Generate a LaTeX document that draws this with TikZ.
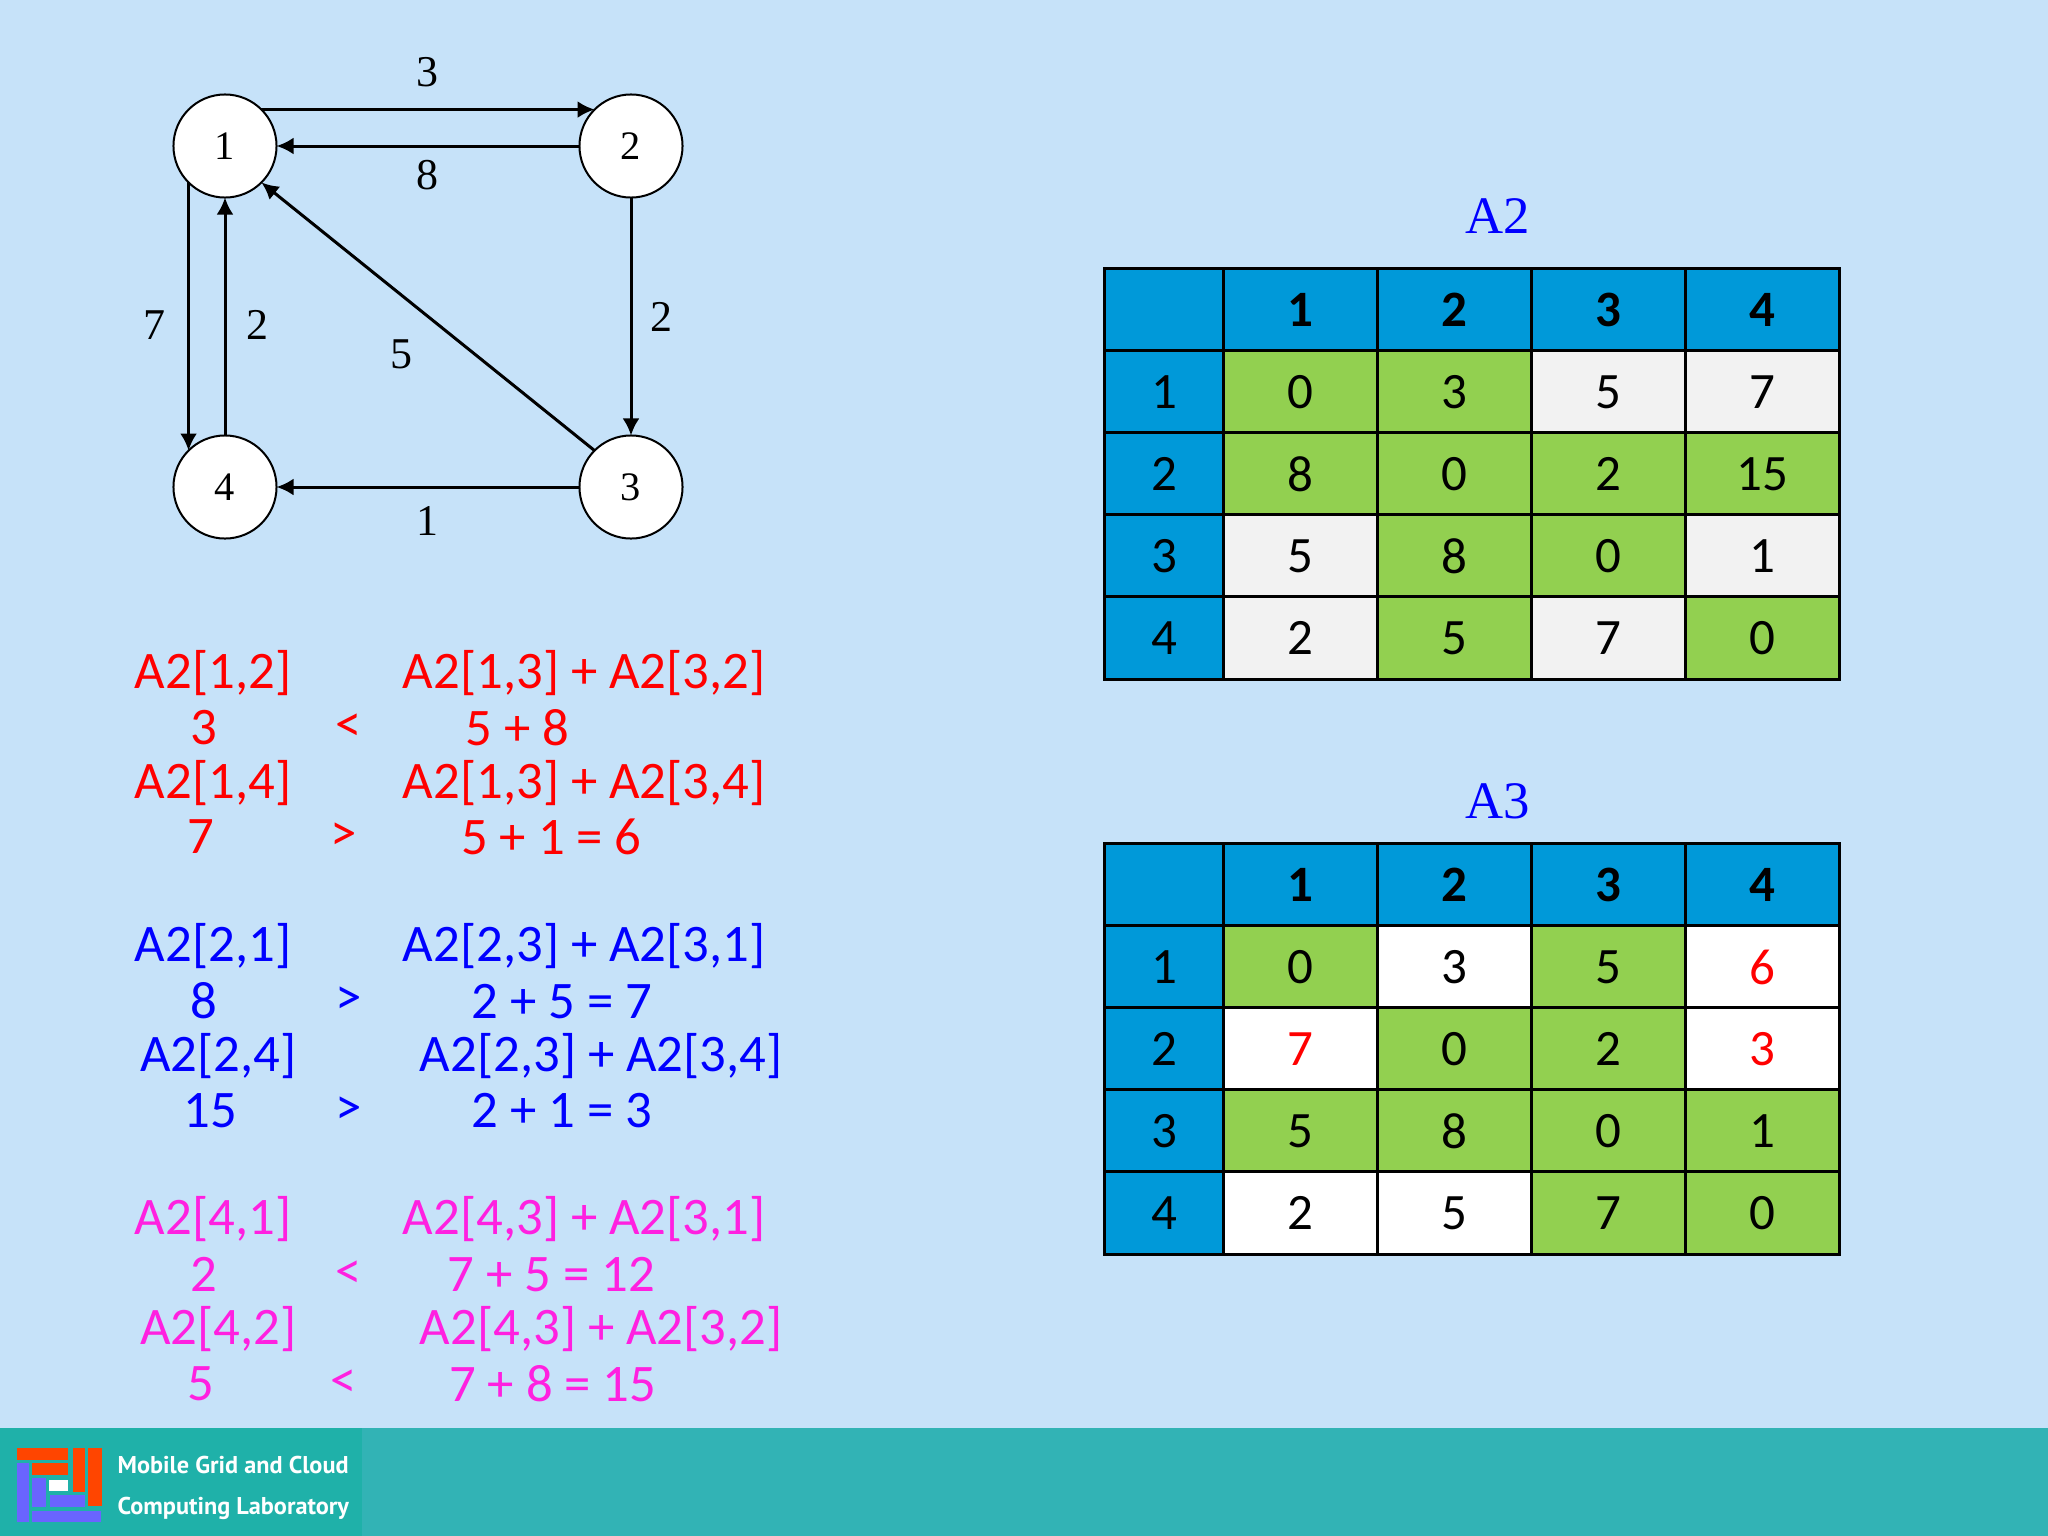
\documentclass[tikz,border=0pt]{standalone}
\usepackage{fontspec}
\usepackage{xcolor}
\usetikzlibrary{arrows.meta}
\setmainfont{Liberation Serif}
\newfontfamily\tabfont{Carlito}
\newfontfamily\handfont{Carlito}
\newfontfamily\logofont{PT Sans}
\definecolor{bgblue}{HTML}{C6E2F9}
\definecolor{bandteal}{HTML}{32B3B5}
\definecolor{logoteal}{HTML}{1FB1A9}
\definecolor{hdblue}{HTML}{0099D9}
\definecolor{cellgreen}{HTML}{92D050}
\definecolor{cellgrey}{HTML}{F2F2F2}
\definecolor{logored}{HTML}{FF4500}
\definecolor{logoviolet}{HTML}{6A64FF}
\definecolor{handpink}{HTML}{FF20E0}

\begin{document}
\begin{tikzpicture}[x=.01cm, y=-.01cm,
  vertex/.style={circle, draw=black, fill=white, line width=.02cm, minimum size=1.03cm, inner sep=0, outer sep=0, font=\fontsize{11.5}{13}\selectfont},
  edge/.style={-{Latex[length=.17cm,width=.17cm]}, black, line width=.03cm},
  weight/.style={inner sep=0, font=\fontsize{12.5}{14}\selectfont},
  title/.style={inner sep=0, text=blue, font=\fontsize{15}{17}\selectfont},
  cell/.style={draw=black, line width=.03cm, minimum width=1.5375cm, minimum height=.82cm, inner sep=0, font=\tabfont\fontsize{14.5}{16}\selectfont},
  side/.style={cell, fill=hdblue, minimum width=1.19cm},
  hb/.style={cell, fill=hdblue, font=\tabfont\bfseries\fontsize{14.5}{16}\selectfont},
  gr/.style={cell, fill=cellgreen},
  gy/.style={cell, fill=cellgrey},
  wh/.style={cell, fill=white},
  rd/.style={cell, fill=white, text=red},
  hand/.style={inner sep=0, font=\handfont\fontsize{15}{17}\selectfont},
  logotext/.style={inner sep=0, anchor=west, text=white, font=\logofont\bfseries\fontsize{6.9}{8}\selectfont}]
\useasboundingbox (0,0) rectangle (2048,1536);
\fill[bgblue] (0,0) rectangle (2048,1536);
\fill[bandteal] (0,1428) rectangle (2048,1536);
\fill[logoteal] (0,1428) rectangle (362,1536);

\node[vertex] (n1) at (225,146) {1};
\node[vertex] (n2) at (631,146) {2};
\node[vertex] (n3) at (631,487) {3};
\node[vertex] (n4) at (225,487) {4};
\draw[edge] (n1.north east) -- (n2.north west);
\draw[edge] (n2) -- (n1);
\draw[edge] (n2) -- (n3);
\draw[edge] (n3) -- (n4);
\draw[edge] (n3.north west) -- (n1.south east);
\draw[edge] (n1.south west) -- (n4.north west);
\draw[edge] (n4) -- (n1);
\foreach \x/\y/\w in {427/72/3, 427/175/8, 661/317/2, 154/325/7, 257/325/2, 401/354/5, 427/521/1} {
 \node[weight] (w\x-\y) at (\x,\y) {\w};
}

\begin{scope}[x=.01306cm, y=-.01306cm]
\foreach \x/\y/\t in {163/515/{A2[1,2]}, 447/515/{A2[1,3] + A2[3,2]}, 156/557/3, 267/557/{<}, 396/557/{5 + 8},
  163/599/{A2[1,4]}, 447/599/{A2[1,3] + A2[3,4]}, 154/640/7, 263/640/{>}, 422/640/{5 + 1 = 6}} {
 \node[hand, text=red] (e\x-\y) at (\x,\y) {\t};
}
\foreach \x/\y/\t in {163/724/{A2[2,1]}, 447/724/{A2[2,3] + A2[3,1]}, 156/766/8, 267/766/{>}, 430/766/{2 + 5 = 7},
  167/808/{A2[2,4]}, 460/808/{A2[2,3] + A2[3,4]}, 161/850/15, 267/850/{>}, 430/850/{2 + 1 = 3}} {
 \node[hand, text=blue] (e\x-\y) at (\x,\y) {\t};
}
\foreach \x/\y/\t in {163/933/{A2[4,1]}, 447/933/{A2[4,3] + A2[3,1]}, 156/975/2, 267/975/{<}, 422/975/{7 + 5 = 12},
  167/1017/{A2[4,2]}, 460/1017/{A2[4,3] + A2[3,2]}, 154/1059/5, 263/1059/{<}, 423/1059/{7 + 8 = 15}} {
 \node[hand, text=handpink] (e\x-\y) at (\x,\y) {\t};
}
\end{scope}

\node[title] (titleA2) at (1498,216) {A2};
\node[side] (a2-corner) at (1164.5,310) {};
\foreach \c in {1,2,3,4} {
 \node[hb] (a2-h\c) at ({1224+153.75*(\c-.5)},310) {\c};
}
\foreach \r/\y/\cells in {1/392/{0/gr,3/gr,5/gy,7/gy}, 2/474/{8/gr,0/gr,2/gr,15/gr}, 3/556/{5/gy,8/gr,0/gr,1/gy}, 4/638/{2/gy,5/gr,7/gy,0/gr}} {
 \node[side] (a2-s\r) at (1164.5,\y) {\r};
 \foreach \v/\s [count=\c] in \cells {
  \node[\s] (a2-\r-\c) at ({1224+153.75*(\c-.5)},\y) {\v};
 }
}

\node[title] (titleA3) at (1498,801) {A3};
\node[side] (a3-corner) at (1164.5,885) {};
\foreach \c in {1,2,3,4} {
 \node[hb] (a3-h\c) at ({1224+153.75*(\c-.5)},885) {\c};
}
\foreach \r/\y/\cells in {1/967/{0/gr,3/wh,5/gr,6/rd}, 2/1049/{7/rd,0/gr,2/gr,3/rd}, 3/1131/{5/gr,8/gr,0/gr,1/gr}, 4/1213/{2/wh,5/wh,7/gr,0/gr}} {
 \node[side] (a3-s\r) at (1164.5,\y) {\r};
 \foreach \v/\s [count=\c] in \cells {
  \node[\s] (a3-\r-\c) at ({1224+153.75*(\c-.5)},\y) {\v};
 }
}

\fill[logored] (17,1448) rectangle (68,1460);
\fill[logored] (32,1463) rectangle (68,1475);
\fill[logored] (73,1448) rectangle (85,1492);
\fill[logored] (88,1448) rectangle (102,1506);
\fill[logoviolet] (17,1463) rectangle (29,1522);
\fill[logoviolet] (32,1478) rectangle (46,1507);
\fill[logoviolet] (50,1495) rectangle (85,1507);
\fill[logoviolet] (32,1511) rectangle (101,1522);
\fill[white] (49,1480) rectangle (68,1491);
\node[logotext] (logoA) at (117,1465) {Mobile Grid and Cloud};
\node[logotext] (logoB) at (117,1508) {Computing Laboratory};
\end{tikzpicture}
\end{document}
